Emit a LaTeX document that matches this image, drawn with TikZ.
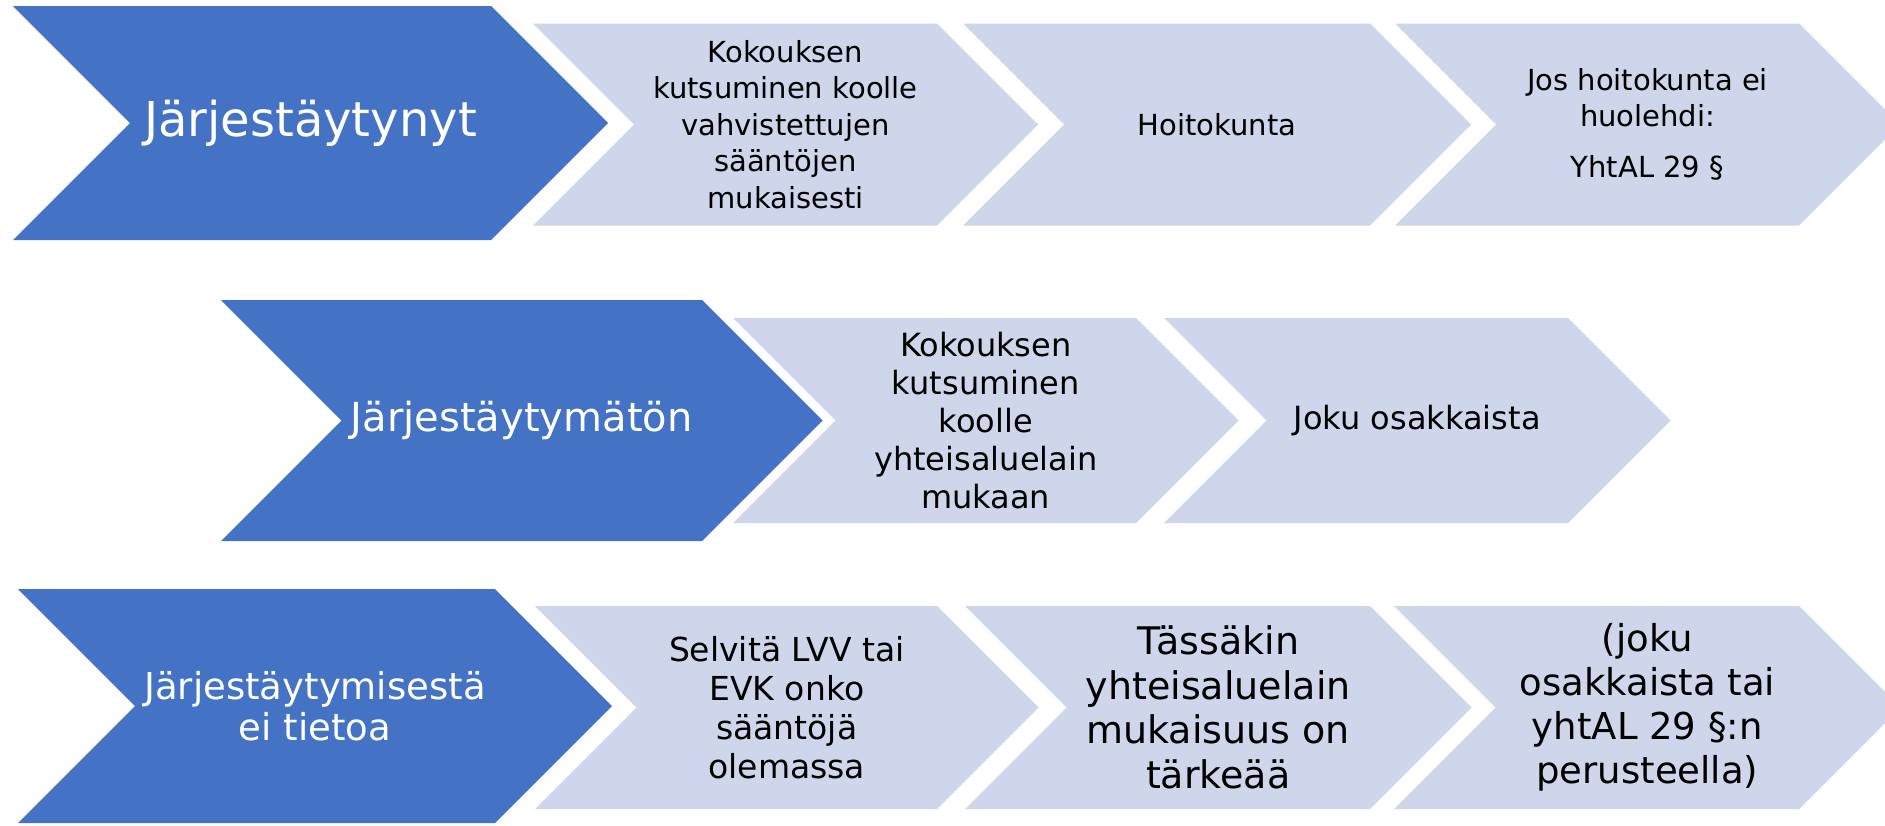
\documentclass[tikz,border=0pt]{standalone}
\usepackage{fontspec}
\setmainfont{DejaVu Sans}
\definecolor{chevblue}{HTML}{4472C4}
\definecolor{chevlight}{HTML}{CFD5EA}
\tikzset{
  darktext/.style={align=center, text=white, inner sep=0pt},
  lighttext/.style={align=center, text=black, inner sep=0pt}
}
% chevron: name, left x, centre y, body width, half height, fill, node options, text
\newcommand{\chev}[8]{%
  \fill[#6] (#2,#3-#5) -- ++(#4,0) -- ++(#5,#5) -- ++(-#5,#5) -- ++(-#4,0) -- ++(#5,-#5) -- cycle;
  \node[#7] (#1) at (#2+#5/2+#4/2,#3) {#8};
}
\begin{document}
\begin{tikzpicture}[x=1pt,y=-1pt]
\useasboundingbox (0,0) rectangle (1885,825);
\clip (0,0) rectangle (1885,825);
\fill[white] (0,0) rectangle (1885,825);

% row 1
\chev{jarj}{13}{123}{478}{117}{chevblue}{darktext, font=\fontsize{48}{56}\selectfont}{Järjestäytynyt}
\chev{kutsu}{533}{124.5}{404}{101}{chevlight}{lighttext, font=\fontsize{29}{36.5}\selectfont}{Kokouksen\\kutsuminen koolle\\vahvistettujen\\sääntöjen\\mukaisesti}
\chev{hoito}{963}{124.5}{407}{101}{chevlight}{lighttext, font=\fontsize{29}{36.5}\selectfont}{Hoitokunta}
\chev{yhtal}{1395}{124.5}{404}{101}{chevlight}{lighttext, font=\fontsize{29}{36}\selectfont}{Jos hoitokunta ei\\huolehdi:\\[15pt]YhtAL 29 §}

% row 2
\chev{jarjmat}{221}{420.5}{481}{120.5}{chevblue}{darktext, font=\fontsize{40}{48}\selectfont}{Järjestäytymätön}
\chev{kutsumuk}{733}{420.5}{403}{102.5}{chevlight}{lighttext, font=\fontsize{32}{38}\selectfont}{Kokouksen\\kutsuminen\\koolle\\yhteisaluelain\\mukaan}
\chev{osakas}{1164}{420.5}{404}{102.5}{chevlight}{lighttext, font=\fontsize{32}{38}\selectfont}{Joku osakkaista}

% row 3
\chev{tieto}{18}{706}{477}{117}{chevblue}{darktext, font=\fontsize{37}{41}\selectfont}{Järjestäytymisestä\\ei tietoa}
\chev{selvita}{535}{707.5}{402}{101.5}{chevlight}{lighttext, font=\fontsize{33}{39}\selectfont}{Selvitä LVV tai\\EVK onko\\sääntöjä\\olemassa}
\chev{tarkea}{965}{707.5}{405}{101.5}{chevlight}{lighttext, font=\fontsize{38}{44.5}\selectfont}{Tässäkin\\yhteisaluelain\\mukaisuus on\\tärkeää}
\chev{peruste}{1394}{707.5}{405}{101.5}{chevlight}{lighttext, font=\fontsize{37}{44}\selectfont}{(joku\\osakkaista tai\\yhtAL 29 §:n\\perusteella)}
\end{tikzpicture}
\end{document}
